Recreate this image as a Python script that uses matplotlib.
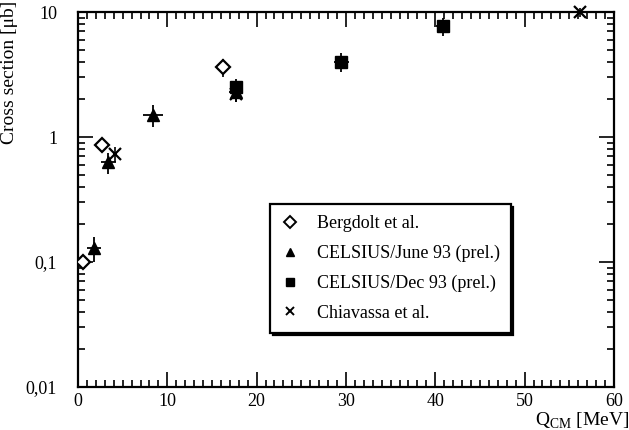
import numpy as np
import matplotlib.pyplot as plt
from matplotlib.lines import Line2D
from matplotlib.ticker import MultipleLocator, FixedLocator, FuncFormatter, LogLocator, NullFormatter

plt.rcParams['font.family'] = ['Liberation Serif', 'DejaVu Serif']
plt.rcParams['mathtext.fontset'] = 'custom'
plt.rcParams['mathtext.rm'] = 'Liberation Serif'

# Bergdolt et al. (open diamonds)
berg_q = [0.6, 2.7, 16.2]
berg_s = [0.1, 0.86, 3.6]
berg_err = [0.012, 0.08, 0.6]

# CELSIUS / June 93 (prel.)
june_q = [1.8, 3.4, 8.4, 17.7]
june_s = [0.13, 0.63, 1.5, 2.3]
june_qerr = [0.8, 0.8, 1.1, 0.8]
june_err = [0.03, 0.12, 0.3, 0.4]

# CELSIUS / Dec 93 (prel.)
dec_q = [17.7, 29.5, 40.9]
dec_s = [2.5, 4.0, 7.7]
dec_qerr = [0.7, 0.8, 0.8]
dec_err = [0.4, 0.7, 1.3]

# Chiavassa et al.
chia_q = [4.1, 17.7, 56.2]
chia_s = [0.73, 2.2, 10.0]
chia_err = [0.1, 0.3, 0.8]

labels = ['Bergdolt et al.', 'CELSIUS/June 93 (prel.)',
          'CELSIUS/Dec 93 (prel.)', 'Chiavassa et al.']

fig = plt.figure(figsize=(6.29, 4.30), dpi=100)
ax = fig.add_axes([0.124, 0.100, 0.852, 0.872])

ax.errorbar(berg_q, berg_s, yerr=berg_err, fmt='D', mfc='white', mec='black',
            mew=1.6, ms=7, ecolor='black', elinewidth=1.2, capsize=0, zorder=3)
ax.errorbar(june_q, june_s, xerr=june_qerr, yerr=june_err, fmt='^', color='black',
            ms=9, elinewidth=1.3, capsize=0, zorder=4)
ax.errorbar(dec_q, dec_s, xerr=dec_qerr, yerr=dec_err, fmt='s', color='black',
            ms=8, elinewidth=1.3, capsize=0, zorder=4)
ax.errorbar(chia_q, chia_s, yerr=chia_err, fmt='x', color='black', mew=1.6,
            ms=9, elinewidth=1.2, capsize=0, zorder=4, clip_on=False)

ax.set_yscale('log')
ax.set_xlim(0, 60)
ax.set_ylim(0.01, 10)

ax.xaxis.set_major_locator(MultipleLocator(10))
ax.xaxis.set_minor_locator(MultipleLocator(1))
ax.yaxis.set_major_locator(FixedLocator([0.01, 0.1, 1, 10]))
ax.yaxis.set_minor_locator(LogLocator(base=10, subs=np.arange(2, 10)))
ax.yaxis.set_minor_formatter(NullFormatter())
ax.yaxis.set_major_formatter(FuncFormatter(lambda v, p: ('%g' % v).replace('.', ',')))

ax.tick_params(which='both', direction='in', top=True, right=True, labelsize=13,
               width=1.2, color='black')
ax.tick_params(which='major', length=11)
ax.tick_params(which='minor', length=5)
ax.tick_params(axis='x', which='major', pad=4)
ax.tick_params(axis='y', which='major', pad=15)
for sp in ax.spines.values():
    sp.set_linewidth(1.6)

ax.set_xlabel(r'Q$_{\mathrm{CM}}$ [MeV]', fontsize=14, loc='right')
ax.xaxis.set_label_coords(1.03, -0.062)
ax.set_ylabel('Cross section [\u03bcb]', fontsize=14, loc='top')
ax.yaxis.set_label_coords(-0.112, 1.03)

handles = [
    Line2D([], [], ls='none', marker='D', mfc='white', mec='black', mew=1.4, ms=6),
    Line2D([], [], ls='none', marker='^', color='black', ms=6),
    Line2D([], [], ls='none', marker='s', color='black', ms=6),
    Line2D([], [], ls='none', marker='x', color='black', mew=1.4, ms=6),
]
leg = ax.legend(handles, labels, loc='upper left', bbox_to_anchor=(0.358, 0.487),
                fontsize=13, frameon=True, fancybox=False,
                shadow={'color': 'black', 'alpha': 1}, edgecolor='black',
                handlelength=1.0, handletextpad=1.0, borderpad=0.6,
                labelspacing=0.7, borderaxespad=0)
leg.get_frame().set_linewidth(1.6)

fig.savefig('out.png', dpi=100)
